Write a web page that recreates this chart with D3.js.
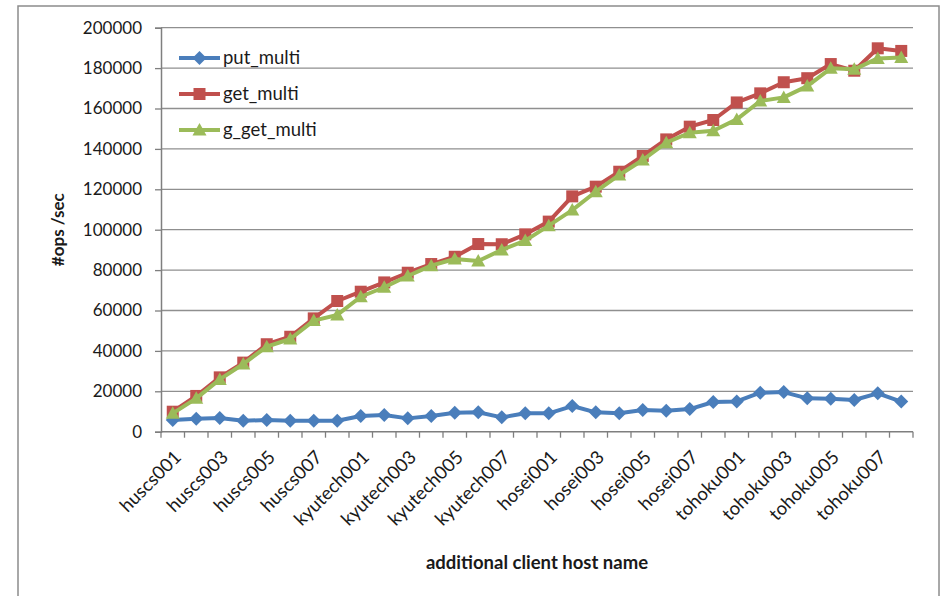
<!DOCTYPE html>
<html>
<head>
<meta charset="utf-8">
<script src="https://cdn.jsdelivr.net/npm/d3@7"></script>
<style>
  html, body { margin: 0; padding: 0; background: #ffffff; }
  svg { display: block; }
  text { font-family: Lato, "Open Sans", sans-serif; fill: #1a1a1a; }
</style>
</head>
<body>
<svg id="chart" width="941" height="596"></svg>
<script>
// Client hosts added one at a time
const hosts = [
  "huscs001","huscs002","huscs003","huscs004","huscs005","huscs006","huscs007","huscs008",
  "kyutech001","kyutech002","kyutech003","kyutech004","kyutech005","kyutech006","kyutech007","kyutech008",
  "hosei001","hosei002","hosei003","hosei004","hosei005","hosei006","hosei007","hosei008",
  "tohoku001","tohoku002","tohoku003","tohoku004","tohoku005","tohoku006","tohoku007","tohoku008"
];

// Throughput (#ops/sec) per series
const putMulti = [
  5800, 6400, 6800, 5400, 5800, 5400, 5400, 5400,
  7800, 8300, 6600, 7800, 9400, 9600, 7100, 9100,
  9100, 12700, 9600, 9100, 10700, 10400, 11200, 14700,
  15000, 19300, 19600, 16500, 16300, 15700, 19000, 14900
];
const getMulti = [
  9900, 17700, 26900, 34200, 43300, 47000, 56100, 64700,
  69300, 73900, 78700, 83000, 86600, 92900, 92800, 97700,
  104000, 116500, 121300, 128700, 136500, 144700, 151000, 154300,
  163000, 167500, 173000, 175000, 182000, 178700, 189800, 188500
];
const gGetMulti = [
  9100, 16500, 25900, 33500, 42100, 45900, 55000, 57800,
  66800, 71500, 77100, 82200, 85500, 84500, 90000, 94600,
  102000, 109700, 118800, 127100, 134500, 143100, 148000, 149000,
  154600, 163700, 165500, 171100, 179900, 179400, 184800, 185300
];

const yTicks = [0, 20000, 40000, 60000, 80000, 100000, 120000, 140000, 160000, 180000, 200000];

const series = [
  { name: "put_multi",   values: putMulti,  color: "#4a7ebb", shape: "diamond" },
  { name: "get_multi",   values: getMulti,  color: "#c0504d", shape: "square" },
  { name: "g_get_multi", values: gGetMulti, color: "#9bbb59", shape: "triangle" }
];

const svg = d3.select("#chart");
const plotLeft = 161, plotRight = 913, plotTop = 27.7, plotBottom = 431.7;

// Outer frame of the chart area
svg.append("rect")
  .attr("x", 18).attr("y", 6)
  .attr("width", 921).attr("height", 620)
  .attr("fill", "none").attr("stroke", "#8c8c8c").attr("stroke-width", 1.5);

const x = d3.scaleBand().domain(hosts).range([plotLeft, plotRight]).padding(0);
const y = d3.scaleLinear().domain([0, 200000]).range([plotBottom, plotTop]);

// Horizontal gridlines
svg.append("g")
  .selectAll("line")
  .data(yTicks.filter(d => d > 0))
  .join("line")
  .attr("x1", plotLeft).attr("x2", plotRight)
  .attr("y1", d => y(d)).attr("y2", d => y(d))
  .attr("stroke", "#8f8f8f").attr("stroke-width", 1.3);

// Y axis
const yAxis = svg.append("g")
  .attr("transform", `translate(${plotLeft},0)`)
  .call(d3.axisLeft(y).tickValues(yTicks).tickSize(6).tickPadding(13).tickFormat(d3.format("d")));
yAxis.select(".domain").attr("stroke", "#7f7f7f").attr("stroke-width", 1.5);
yAxis.selectAll(".tick line").attr("stroke", "#7f7f7f").attr("stroke-width", 1.3);
yAxis.selectAll(".tick text")
  .attr("font-family", "Lato, sans-serif").attr("font-size", 17).attr("fill", "#1a1a1a");

// X axis: ticks between categories
const bounds = hosts.map(h => x(h)).concat([plotRight]);
svg.append("line")
  .attr("x1", plotLeft).attr("x2", plotRight).attr("y1", plotBottom).attr("y2", plotBottom)
  .attr("stroke", "#7f7f7f").attr("stroke-width", 1.5);
svg.append("g").selectAll("line")
  .data(bounds)
  .join("line")
  .attr("x1", d => d).attr("x2", d => d)
  .attr("y1", plotBottom).attr("y2", plotBottom + 6)
  .attr("stroke", "#7f7f7f").attr("stroke-width", 1.3);

// Category labels, every other host
svg.append("g").selectAll("text")
  .data(hosts.filter((h, i) => i % 2 === 0))
  .join("text")
  .attr("transform", d => `translate(${x(d) + x.bandwidth() / 2 + 5},${plotBottom + 22}) rotate(-45)`)
  .attr("text-anchor", "end")
  .attr("dy", "0.35em")
  .attr("font-size", 18.5)
  .text(d => d);

// Marker shapes
function marker(sel, shape, color) {
  if (shape === "diamond") {
    sel.append("path").attr("d", "M0,-7L7,0L0,7L-7,0Z").attr("fill", color);
  } else if (shape === "square") {
    sel.append("rect").attr("x", -6).attr("y", -6).attr("width", 12).attr("height", 12).attr("fill", color);
  } else {
    sel.append("path").attr("d", "M0,-7L7,5.5L-7,5.5Z").attr("fill", color);
  }
}

const line = d3.line()
  .x((d, i) => x(hosts[i]) + x.bandwidth() / 2)
  .y(d => y(d));

series.forEach(s => {
  const g = svg.append("g");
  g.append("path")
    .datum(s.values)
    .attr("d", line)
    .attr("fill", "none")
    .attr("stroke", s.color)
    .attr("stroke-width", 4)
    .attr("stroke-linejoin", "round");
  s.values.forEach((v, i) => {
    const m = g.append("g")
      .attr("transform", `translate(${x(hosts[i]) + x.bandwidth() / 2},${y(v)})`);
    marker(m, s.shape, s.color);
  });
});

// Legend
const legend = svg.append("g");
series.forEach((s, i) => {
  const ly = 58 + i * 36;
  legend.append("line")
    .attr("x1", 179).attr("x2", 220).attr("y1", ly).attr("y2", ly)
    .attr("stroke", s.color).attr("stroke-width", 4);
  const m = legend.append("g").attr("transform", `translate(199.5,${ly})`);
  marker(m, s.shape, s.color);
  legend.append("text")
    .attr("x", 223).attr("y", ly).attr("dy", "0.35em")
    .attr("font-size", 18.5)
    .text(s.name);
});

// Axis titles
svg.append("text")
  .attr("transform", `translate(58,${(plotTop + plotBottom) / 2}) rotate(-90)`)
  .attr("text-anchor", "middle")
  .attr("dy", "0.35em")
  .attr("font-size", 17)
  .attr("font-weight", "bold")
  .text("#ops /sec");

svg.append("text")
  .attr("x", (plotLeft + plotRight) / 2)
  .attr("y", 563)
  .attr("text-anchor", "middle")
  .attr("dy", "0.35em")
  .attr("font-size", 18.5)
  .attr("font-weight", "bold")
  .text("additional client host name");
</script>
</body>
</html>
